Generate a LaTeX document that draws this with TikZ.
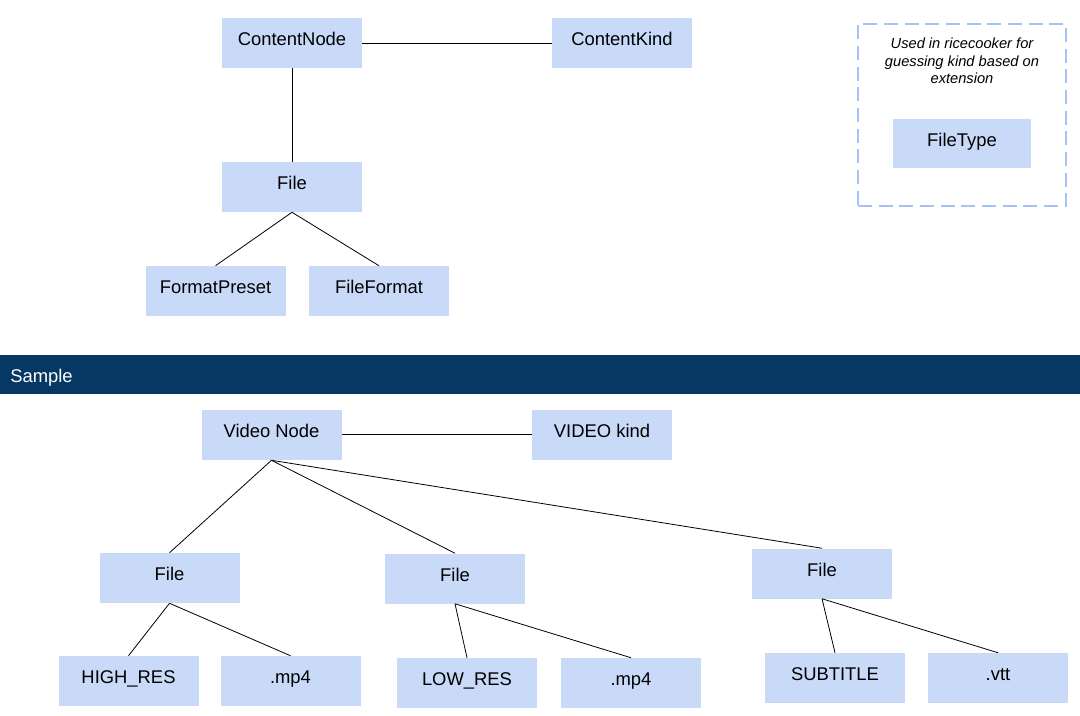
\documentclass[tikz,border=0pt]{standalone}
\usepackage{fontspec}
\setmainfont{Liberation Sans}
\definecolor{boxfill}{HTML}{C9DAF8}
\definecolor{dashcol}{HTML}{A4C2F4}
\definecolor{banner}{HTML}{073763}
\tikzset{
  ebox/.style={rectangle, fill=boxfill, draw=none, minimum width=105pt, minimum height=37.5pt,
    inner sep=0pt, font=\fontsize{13.8}{16}\selectfont, text height=7pt, text depth=3.2pt},
  link/.style={draw=black, line width=0.6pt}
}
\begin{document}
\begin{tikzpicture}[x=0.75pt,y=-0.75pt]
\useasboundingbox (0,0) rectangle (1080,715);
\fill[white] (0,0) rectangle (1080,715);
% top diagram
\node[ebox] (cn) at (292,43) {ContentNode};
\node[ebox] (ck) at (622,43) {ContentKind};
\node[ebox] (f0) at (292,187) {File};
\node[ebox] (fp) at (215.5,291) {FormatPreset};
\node[ebox] (ff) at (379,291) {FileFormat};
\draw[link] (cn.east) -- (ck.west);
\draw[link] (cn.south) -- (f0.north);
\draw[link] (f0.south) -- (fp.north);
\draw[link] (f0.south) -- (ff.north);
% dashed legend box
\node[draw=dashcol, line width=2.2pt, dash pattern=on 10.5pt off 5pt, minimum width=156pt, minimum height=136.5pt, inner sep=0pt] (legend) at (962,115) {};
\node[font=\fontsize{11}{13.1}\selectfont\itshape, align=center, anchor=base, inner sep=0pt] (note) at (962,83.5) {Used in ricecooker for\\guessing kind based on\\extension};
\node[ebox, minimum width=103.5pt, minimum height=36.75pt] (ft) at (962,143.5) {FileType};
% banner
\fill[banner] (0,355) rectangle (1080,394);
\node[anchor=base west, text=white, font=\fontsize{13.8}{16}\selectfont, inner sep=0pt] (sample) at (10,382) {Sample};
% sample diagram
\node[ebox] (vn) at (271.5,435) {Video Node};
\node[ebox] (vk) at (602,435) {VIDEO kind};
\node[ebox] (f1) at (169.5,578) {File};
\node[ebox] (f2) at (455,578.5) {File};
\node[ebox] (f3) at (822,573.5) {File};
\node[ebox] (hr) at (128.5,681) {HIGH\_RES};
\node[ebox] (m1) at (290.5,681) {.mp4};
\node[ebox] (lr) at (467,683) {LOW\_RES};
\node[ebox] (m2) at (631,683) {.mp4};
\node[ebox] (st) at (835,678) {SUBTITLE};
\node[ebox] (vt) at (998,678) {.vtt};
\draw[link] ([yshift=0.75pt]vn.east) -- ([yshift=0.75pt]vk.west);
\draw[link] (vn.south) -- (f1.north);
\draw[link] (vn.south) -- (f2.north);
\draw[link] (vn.south) -- (f3.north);
\draw[link] (f1.south) -- (hr.north);
\draw[link] (f1.south) -- (m1.north);
\draw[link] (f2.south) -- (lr.north);
\draw[link] (f2.south) -- (m2.north);
\draw[link] (f3.south) -- (st.north);
\draw[link] (f3.south) -- (vt.north);
\end{tikzpicture}
\end{document}
